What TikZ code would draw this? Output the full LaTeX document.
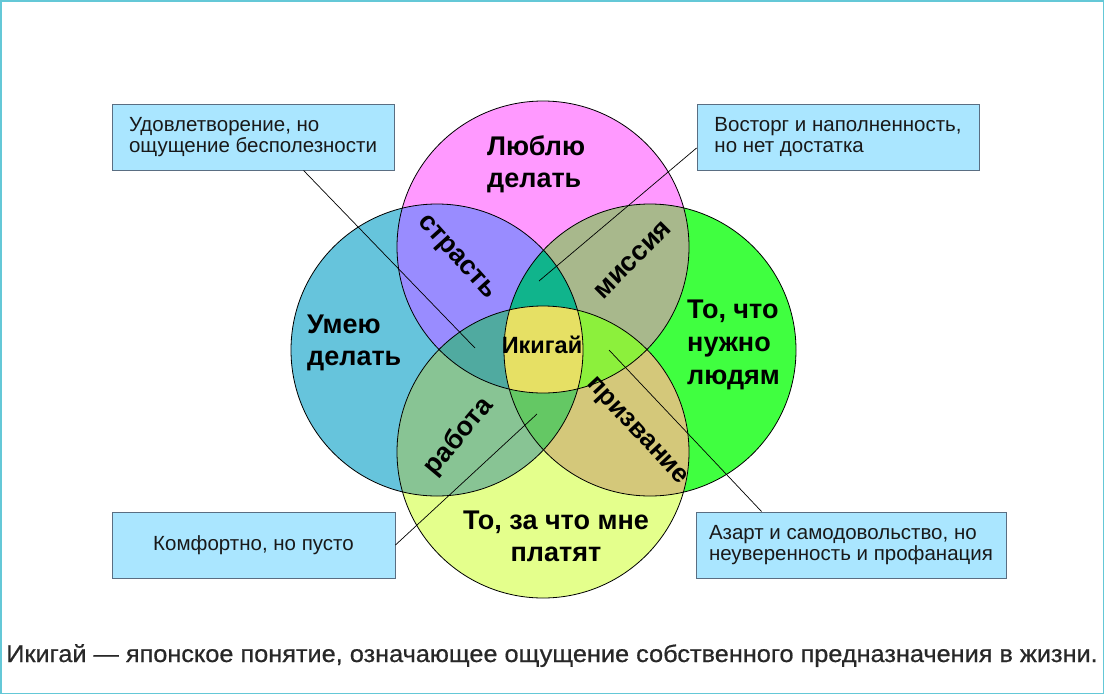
\documentclass[tikz,border=0pt]{standalone}
\usepackage{fontspec}
\setmainfont{Liberation Sans}
\newfontfamily\capfont[FakeBold=0.6]{Liberation Sans}
\usetikzlibrary{calc}
\definecolor{cT}{RGB}{255,153,255}
\definecolor{cL}{RGB}{102,196,220}
\definecolor{cR}{RGB}{64,255,64}
\definecolor{cB}{RGB}{228,255,140}
\definecolor{cTL}{RGB}{153,140,255}
\definecolor{cTR}{RGB}{168,184,140}
\definecolor{cBL}{RGB}{136,196,148}
\definecolor{cBR}{RGB}{212,200,122}
\definecolor{cTLR}{RGB}{16,180,140}
\definecolor{cTLB}{RGB}{80,170,160}
\definecolor{cTRB}{RGB}{140,240,60}
\definecolor{cLRB}{RGB}{100,200,100}
\definecolor{cAll}{RGB}{230,224,100}
\definecolor{boxfill}{RGB}{170,230,255}
\definecolor{boxline}{RGB}{90,110,130}
\definecolor{frame}{RGB}{100,200,215}
\definecolor{captxt}{RGB}{40,40,40}
\tikzset{
  infobox/.style={draw=boxline, fill=boxfill, line width=0.9pt, minimum height=66pt,
    inner xsep=4pt, inner ysep=0pt, font=\fontsize{20.5}{21}\selectfont, text=black!90},
  biglabel/.style={font=\fontsize{27}{32}\selectfont\bfseries, align=center, inner sep=0pt},
  leftlabel/.style={biglabel, align=left, anchor=west},
  leader/.style={draw=black, line width=0.7pt},
  ring/.style={draw=black, line width=0.8pt}
}
\begin{document}
\begin{tikzpicture}[x=1pt,y=-1pt]
\useasboundingbox (0,0) rectangle (1104,694);
\fill[white] (0,0) rectangle (1104,694);
\draw[frame, line width=1.5pt] (0.75,0.75) rectangle (1103.25,693.25);
\def\rad{146pt}
\coordinate (T) at (543,247);
\coordinate (B) at (543,452);
\coordinate (L) at (437,350);
\coordinate (R) at (650,350);
% single circles
\fill[cT] (T) circle (\rad);
\fill[cL] (L) circle (\rad);
\fill[cR] (R) circle (\rad);
\fill[cB] (B) circle (\rad);
% pairs
\begin{scope}\clip (T) circle (\rad); \fill[cTL] (L) circle (\rad); \fill[cTR] (R) circle (\rad); \end{scope}
\begin{scope}\clip (B) circle (\rad); \fill[cBL] (L) circle (\rad); \fill[cBR] (R) circle (\rad); \end{scope}
% triples
\begin{scope}\clip (T) circle (\rad); \clip (L) circle (\rad); \fill[cTLR] (R) circle (\rad); \fill[cTLB] (B) circle (\rad); \end{scope}
\begin{scope}\clip (B) circle (\rad); \clip (R) circle (\rad); \fill[cTRB] (T) circle (\rad); \fill[cLRB] (L) circle (\rad); \end{scope}
% all four
\begin{scope}\clip (T) circle (\rad); \clip (B) circle (\rad); \clip (L) circle (\rad); \fill[cAll] (R) circle (\rad); \end{scope}
% outlines
\draw[ring] (T) circle (\rad);
\draw[ring] (L) circle (\rad);
\draw[ring] (R) circle (\rad);
\draw[ring] (B) circle (\rad);

% labels
\node[leftlabel] (love) at (487,164) {Люблю\\делать};
\node[leftlabel] (can) at (307,343) {Умею\\делать};
\node[leftlabel, font=\fontsize{27}{33}\selectfont\bfseries] (need) at (687,345) {То, что\\нужно\\людям};
\node[biglabel] (paid) at (556,536) {То, за что мне\\платят};
\node[font=\fontsize{23.5}{26}\selectfont\bfseries, inner sep=0pt] (iki) at (542,345) {Икигай};
\node[biglabel, rotate=-48] (passion) at (456,258) {страсть};
\node[biglabel, rotate=45] (mission) at (633,260) {миссия};
\node[biglabel, rotate=50] (job) at (459,437) {работа};
\node[biglabel, rotate=-47, font=\fontsize{26}{32}\selectfont\bfseries] (calling) at (636,432) {призвание};

% info boxes
\node[infobox, minimum width=282pt, align=left] (b1) at (253,137) {Удовлетворение, но\\ощущение бесполезности};
\node[infobox, minimum width=282pt, align=left] (b2) at (838,137) {Восторг и наполненность,\\но нет достатка};
\node[infobox, minimum width=283pt, align=center] (b3) at (253.5,545) {Комфортно, но пусто};
\node[infobox, minimum width=310pt, align=left] (b4) at (851,545) {Азарт и самодовольство, но\\неуверенность и профанация};

% leader endpoints
\coordinate (p1) at (475,348);
\coordinate (p2) at (539,281);
\coordinate (p3) at (537,414);
\coordinate (p4) at (609,350);
\draw[leader] ([xshift=192pt]b1.south west) -- (p1);
\draw[leader] ([yshift=-11pt]b2.west) -- (p2);
\draw[leader] (b3.east) -- (p3);
\draw[leader] ([xshift=66pt]b4.north west) -- (p4);

% caption
\node[text=captxt, inner sep=0pt, anchor=base] (cap) at (552,662) {\scalebox{1.054}[1]{\capfont\fontsize{24}{28}\selectfont Икигай — японское понятие, означающее ощущение собственного предназначения в жизни.}};
\end{tikzpicture}
\end{document}
